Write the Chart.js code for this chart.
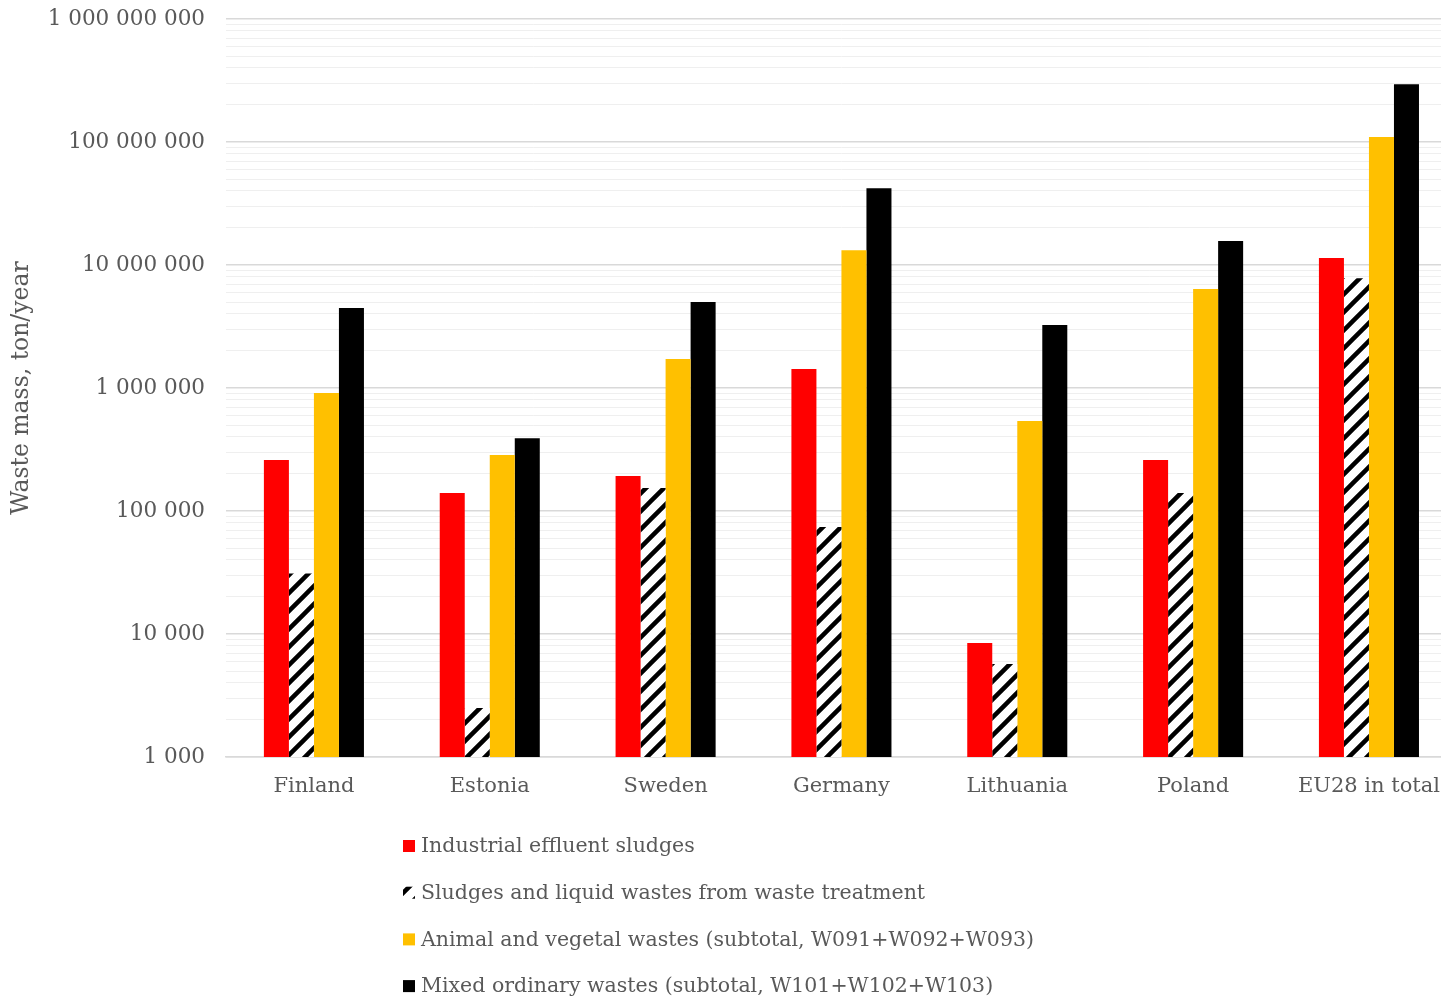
<!DOCTYPE html>
<html>
<head>
<meta charset="utf-8">
<title>Waste mass by country</title>
<script src="https://cdn.jsdelivr.net/npm/chart.js@4/dist/chart.umd.min.js"></script>
<style>
  html, body { margin: 0; padding: 0; background: #fff; overflow: hidden; }
  #wrap { width: 1457px; height: 999px; position: relative; }
</style>
</head>
<body>
<div id="wrap"><canvas id="wasteChart"></canvas></div>
<script>
// categories and series (ton/year)
var countries = ['Finland', 'Estonia', 'Sweden', 'Germany', 'Lithuania', 'Poland', 'EU28 in total'];
var industrialSludges = [260000, 140000, 193000, 1430000, 8450, 260000, 11400000];
var treatmentSludges = [31000, 2500, 154000, 74000, 5700, 140000, 7800000];
var animalVegetal = [910000, 285000, 1720000, 13200000, 540000, 6380000, 110000000];
var mixedOrdinary = [4470000, 390000, 5000000, 42000000, 3250000, 15700000, 295000000];
var seriesNames = [
    'Industrial effluent sludges',
    'Sludges and liquid wastes from waste treatment',
    'Animal and vegetal wastes (subtotal, W091+W092+W093)',
    'Mixed ordinary wastes (subtotal, W101+W102+W103)'
];
var yMin = 1000, yMax = 1000000000;

var textColor = '#595959';
var fontFamily = '"DejaVu Serif", Georgia, serif';

// diagonal black/white hatch for the second series
function makeHatch() {
    var s = 18;
    var c = document.createElement('canvas');
    c.width = s; c.height = s;
    var g = c.getContext('2d');
    g.fillStyle = '#fff';
    g.fillRect(0, 0, s, s);
    g.strokeStyle = '#000';
    g.lineWidth = 4.5;
    g.beginPath();
    g.moveTo(-s / 2, s / 2); g.lineTo(s / 2, -s / 2);
    g.moveTo(0, s); g.lineTo(s, 0);
    g.moveTo(s / 2, s * 1.5); g.lineTo(s * 1.5, s / 2);
    g.stroke();
    return g.createPattern(c, 'repeat');
}
var canvas = document.getElementById('wasteChart');
var hatch = makeHatch();

function isDecade(v) {
    var l = Math.log10(v);
    return Math.abs(l - Math.round(l)) < 1e-9;
}
function spaced(v) {
    return String(Math.round(v)).replace(/\B(?=(\d{3})+(?!\d))/g, ' ');
}

// legend drawn as a vertical list under the axis
var listLegend = {
    id: 'listLegend',
    afterDraw: function (chart) {
        var ctx = chart.ctx;
        ctx.save();
        ctx.font = '20.5px ' + fontFamily;
        ctx.textBaseline = 'middle';
        ctx.textAlign = 'left';
        chart.data.datasets.forEach(function (ds, i) {
            var y = 846 + i * 46.7;
            ctx.fillStyle = ds.backgroundColor;
            ctx.fillRect(403, y - 6, 12, 12);
            ctx.fillStyle = textColor;
            ctx.fillText(ds.label, 421, y + 1);
        });
        ctx.restore();
    }
};

new Chart(canvas, {
    type: 'bar',
    data: {
        labels: countries,
        datasets: [
            { label: seriesNames[0], data: industrialSludges, backgroundColor: '#ff0000' },
            { label: seriesNames[1], data: treatmentSludges, backgroundColor: hatch },
            { label: seriesNames[2], data: animalVegetal, backgroundColor: '#ffc000' },
            { label: seriesNames[3], data: mixedOrdinary, backgroundColor: '#000000' }
        ]
    },
    options: {
        responsive: true,
        maintainAspectRatio: false,
        animation: false,
        layout: { padding: { top: 19, left: 0, right: 0, bottom: 192 } },
        datasets: {
            bar: { categoryPercentage: 0.569, barPercentage: 1.0, borderWidth: 0 }
        },
        plugins: {
            legend: { display: false },
            tooltip: { enabled: false }
        },
        scales: {
            x: {
                grid: { display: false, drawTicks: false },
                border: { display: true, color: '#d9d9d9', width: 1.5 },
                ticks: {
                    color: textColor,
                    padding: 17,
                    font: { family: fontFamily, size: 21 },
                    maxRotation: 0
                },
                afterFit: function (scale) { scale.height = 50; }
            },
            y: {
                type: 'logarithmic',
                min: yMin,
                max: yMax,
                afterBuildTicks: function (scale) {
                    var ticks = [];
                    for (var e = Math.log10(yMin); e < Math.log10(yMax); e++) {
                        for (var m = 1; m <= 9; m++) {
                            var v = m * Math.pow(10, e);
                            ticks.push({ value: v, major: m === 1 });
                        }
                    }
                    ticks.push({ value: yMax, major: true });
                    scale.ticks = ticks;
                },
                afterFit: function (scale) {
                    scale.width = 226;
                    scale.paddingTop = 0;
                    scale.paddingBottom = 0;
                },
                grid: {
                    drawTicks: false,
                    color: function (ctx) {
                        return ctx.tick && isDecade(ctx.tick.value) ? '#d9d9d9' : '#efefef';
                    },
                    lineWidth: function (ctx) {
                        return ctx.tick && isDecade(ctx.tick.value) ? 1.5 : 1;
                    }
                },
                border: { display: false },
                ticks: {
                    autoSkip: false,
                    padding: 21,
                    color: textColor,
                    font: { family: fontFamily, size: 21.5 },
                    callback: function (value) {
                        return isDecade(value) ? spaced(value) : '';
                    }
                },
                title: {
                    display: true,
                    text: 'Waste mass, ton/year',
                    color: textColor,
                    font: { family: fontFamily, size: 23.5 },
                    padding: { top: 8, bottom: 0 }
                }
            }
        }
    },
    plugins: [listLegend]
});
</script>
</body>
</html>
